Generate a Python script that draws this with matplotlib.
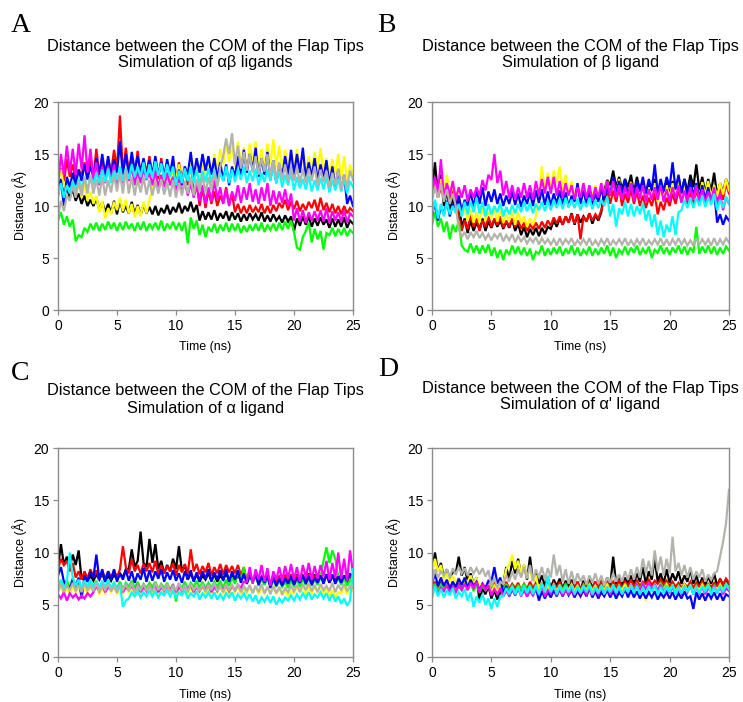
import numpy as np
import matplotlib
matplotlib.use("Agg")
from matplotlib import pyplot as plt

# time axis: one reading every 0.25 ns, 0..25 ns
time_ns = np.linspace(0, 25, 101)

# ---------- A: simulation of alpha-beta ligands ----------
a_black = [11.5, 12.6, 11.0, 11.8, 10.8, 11.6, 10.5, 11.2, 10.2, 11.0, 10.0, 10.6, 10.0, 10.8, 9.6, 10.4, 9.4, 10.2, 9.3, 10.5,
           9.2, 10.6, 9.4, 10.0, 9.3, 10.4, 9.2, 10.1, 9.1, 10.2, 9.3, 9.9, 9.2, 10.0, 9.1, 9.8, 9.3, 10.1, 9.2, 9.9,
           9.4, 10.3, 9.3, 10.0, 9.5, 10.4, 9.4, 10.1, 8.6, 9.5, 8.7, 9.4, 8.7, 9.6, 8.6, 9.3, 8.8, 9.5, 8.6, 9.4,
           8.7, 9.3, 8.5, 9.2, 8.6, 9.3, 8.7, 9.2, 8.6, 9.4, 8.5, 9.1, 8.5, 9.2, 8.6, 9.0, 8.4, 9.1, 8.5, 9.0,
           7.6, 8.8, 8.1, 9.0, 8.2, 9.0, 8.0, 8.8, 8.1, 8.9, 8.2, 8.7, 7.9, 8.8, 8.0, 8.7, 8.0, 8.9, 7.9, 8.6,
           8.3]
a_red = [12.5, 13.6, 12.2, 14.5, 12.8, 14.0, 12.6, 13.5, 13.0, 14.2, 12.5, 14.8, 12.7, 15.5, 13.0, 14.2, 12.8, 14.6, 13.2, 15.4,
         13.5, 18.7, 13.0, 15.6, 13.2, 14.8, 13.0, 15.3, 12.9, 14.5, 13.2, 14.8, 12.8, 14.2, 12.6, 14.6, 12.7, 14.0, 12.9, 14.4,
         12.5, 14.2, 12.6, 13.8, 12.0, 14.5, 11.0, 12.2, 10.0, 11.8, 9.8, 11.5, 10.2, 11.4, 10.0, 11.0, 10.3, 11.8, 10.1, 11.2,
         9.4, 10.2, 9.3, 10.0, 9.3, 10.1, 9.4, 9.9, 9.4, 10.2, 9.3, 10.0, 9.3, 10.1, 9.5, 10.3, 9.8, 10.6, 9.6, 10.4,
         9.7, 10.5, 9.5, 10.2, 9.6, 10.4, 9.8, 10.6, 9.5, 10.8, 9.6, 10.3, 9.4, 10.2, 9.3, 10.0, 9.2, 10.0, 9.3, 9.8,
         9.5]
a_green = [8.6, 9.4, 8.2, 9.0, 8.0, 8.7, 6.6, 7.2, 7.0, 7.9, 7.5, 8.3, 7.7, 8.4, 7.6, 8.3, 7.7, 8.5, 7.8, 8.4,
           7.6, 8.4, 7.7, 8.5, 7.8, 8.3, 7.6, 8.4, 7.7, 8.5, 7.6, 8.3, 7.8, 8.4, 7.7, 8.6, 7.6, 8.3, 7.8, 8.5,
           7.7, 8.4, 7.6, 8.5, 6.4, 8.9, 7.8, 8.6, 7.2, 8.2, 7.0, 8.0, 7.5, 8.3, 7.4, 8.2, 7.6, 8.4, 7.5, 8.3,
           7.6, 8.3, 7.4, 8.1, 7.5, 8.2, 7.6, 8.3, 7.6, 8.4, 7.5, 8.2, 7.7, 8.3, 7.6, 8.4, 7.7, 8.5, 7.8, 8.6,
           7.5, 6.0, 5.8, 7.0, 7.6, 8.4, 6.5, 7.8, 6.8, 7.6, 5.8, 7.4, 7.2, 7.9, 7.1, 7.8, 7.2, 7.9, 7.1, 7.7,
           7.4]
a_yellow = [12.5, 13.5, 11.8, 12.8, 11.5, 13.0, 11.0, 12.2, 10.8, 12.0, 10.5, 11.4, 10.2, 11.0, 9.4, 10.5, 8.8, 9.8, 9.2, 10.4,
            9.6, 10.8, 9.5, 10.6, 9.3, 10.2, 8.9, 10.0, 9.0, 10.4, 9.3, 10.6, 11.5, 12.8, 11.8, 13.0, 12.0, 13.5, 12.2, 13.4,
            12.5, 14.0, 12.3, 13.8, 12.6, 14.5, 12.8, 14.2, 12.5, 14.0, 12.7, 14.3, 13.0, 15.0, 13.2, 15.5, 14.0, 16.0, 14.2, 15.8,
            13.8, 16.2, 14.0, 15.6, 13.5, 16.0, 14.2, 16.2, 13.8, 15.5, 13.6, 16.0, 14.0, 16.4, 13.8, 15.8, 13.5, 15.4, 13.8, 15.2,
            13.2, 15.5, 13.4, 15.0, 13.0, 14.8, 13.2, 15.2, 13.3, 15.6, 13.0, 14.6, 12.8, 14.5, 13.0, 15.0, 12.5, 14.8, 12.2, 14.0,
            13.0]
a_blue = [11.0, 12.5, 10.0, 12.8, 11.8, 13.2, 12.0, 13.5, 12.4, 14.0, 12.6, 13.8, 12.8, 14.6, 13.0, 15.0, 13.0, 14.8, 12.8, 14.5,
          13.2, 16.2, 13.0, 15.0, 13.0, 15.2, 13.4, 14.8, 13.2, 14.6, 12.8, 14.4, 13.0, 14.8, 12.9, 14.2, 12.8, 14.5, 13.0, 14.8,
          11.8, 13.5, 12.0, 13.8, 13.0, 15.2, 12.8, 14.6, 13.2, 15.0, 13.4, 14.8, 13.0, 14.6, 12.6, 14.2, 12.4, 14.0, 12.0, 13.8,
          12.8, 14.8, 13.0, 15.4, 13.2, 15.0, 13.4, 15.6, 12.8, 14.6, 13.0, 15.2, 12.5, 14.4, 12.2, 14.0, 12.8, 14.8, 13.0, 15.4,
          13.0, 15.0, 13.2, 15.6, 12.6, 14.2, 12.8, 14.6, 12.4, 14.0, 12.6, 14.4, 12.0, 13.8, 11.8, 13.5, 11.5, 13.0, 10.2, 11.0,
          10.0]
a_magenta = [12.0, 15.0, 13.0, 15.8, 13.2, 15.5, 13.0, 16.0, 13.5, 16.8, 13.2, 15.5, 12.5, 14.2, 12.0, 13.8, 12.2, 13.8, 12.4, 14.0,
             12.0, 13.6, 12.2, 13.5, 12.4, 13.8, 12.0, 13.4, 12.2, 13.6, 12.5, 13.2, 12.0, 13.4, 11.8, 13.0, 11.8, 13.2, 12.0, 12.8,
             11.5, 12.6, 11.2, 12.4, 11.0, 12.2, 10.8, 12.0, 10.5, 12.0, 10.2, 11.8, 10.4, 12.5, 10.6, 11.8, 10.2, 11.6, 10.0, 11.4,
             10.5, 12.0, 10.3, 11.8, 10.6, 12.2, 10.4, 11.6, 10.2, 11.8, 10.5, 12.2, 10.0, 11.5, 10.2, 11.4, 10.3, 11.6, 10.0, 11.2,
             8.6, 9.8, 8.5, 9.6, 8.4, 9.4, 8.6, 9.5, 8.6, 9.6, 8.5, 9.8, 8.4, 9.5, 8.6, 9.4, 8.5, 9.6, 8.4, 9.3,
             9.0]
a_cyan = [11.0, 12.2, 10.8, 12.0, 11.2, 12.4, 11.4, 12.6, 11.6, 12.8, 11.5, 12.9, 12.0, 13.2, 12.2, 13.5, 12.3, 13.6, 12.2, 13.4,
          12.5, 13.8, 12.4, 13.6, 12.6, 14.0, 12.8, 13.8, 12.8, 14.2, 12.6, 14.0, 12.7, 14.3, 12.9, 14.1, 12.6, 14.0, 12.8, 13.8,
          12.0, 13.4, 12.2, 13.6, 12.4, 13.8, 12.2, 13.5, 12.0, 13.4, 12.3, 13.6, 12.2, 13.5, 12.0, 13.2, 12.4, 13.8, 12.2, 13.5,
          12.3, 13.6, 12.5, 13.8, 12.2, 13.4, 12.4, 13.6, 12.0, 13.2, 12.3, 13.5, 12.4, 13.8, 12.2, 13.4, 11.8, 13.0, 12.0, 13.2,
          11.5, 12.8, 11.7, 12.6, 11.6, 12.9, 11.4, 12.5, 11.5, 12.7, 11.6, 12.8, 11.3, 12.5, 11.5, 12.6, 11.4, 12.6, 11.2, 12.4,
          11.8]
a_gray = [9.0, 10.5, 9.5, 11.0, 10.5, 12.0, 10.8, 12.4, 11.0, 12.8, 11.2, 13.0, 11.2, 12.6, 11.0, 12.8, 11.0, 12.5, 11.3, 13.0,
          11.4, 13.2, 11.2, 13.5, 11.2, 12.8, 11.0, 12.6, 11.3, 12.8, 11.1, 12.5, 11.0, 12.4, 11.2, 12.6, 11.1, 12.3, 10.9, 12.5,
          10.8, 12.2, 11.0, 12.4, 11.2, 12.8, 11.0, 12.6, 11.4, 13.0, 11.2, 12.8, 11.5, 13.2, 11.8, 13.8, 14.8, 16.5, 15.0, 17.0,
          14.0, 15.8, 13.6, 15.2, 13.4, 15.0, 13.2, 14.8, 13.0, 14.6, 13.3, 15.0, 12.8, 14.4, 12.6, 14.2, 12.5, 14.0, 12.3, 13.8,
          12.4, 13.8, 12.2, 13.6, 12.2, 13.6, 12.4, 13.8, 12.0, 13.5, 12.3, 13.4, 11.8, 13.2, 12.0, 13.6, 11.6, 13.0, 11.8, 13.4,
          12.5]

# ---------- B: simulation of beta ligand ----------
b_black = [11.5, 14.2, 11.0, 13.0, 10.0, 11.5, 9.6, 10.8, 9.5, 10.5, 8.0, 8.8, 7.4, 8.6, 7.6, 8.4, 7.8, 8.8, 7.6, 8.5,
           7.9, 8.7, 8.0, 8.6, 7.8, 8.5, 7.9, 8.7, 7.6, 8.3, 7.2, 8.0, 7.0, 7.8, 7.2, 7.9, 7.1, 7.9, 7.3, 8.0,
           7.8, 8.6, 8.0, 8.8, 8.2, 9.0, 8.4, 9.3, 8.2, 9.2, 8.4, 9.0, 8.5, 9.3, 8.3, 9.1, 8.6, 9.4, 11.5, 12.5,
           12.0, 13.4, 11.8, 12.8, 11.6, 12.6, 11.8, 13.0, 11.2, 12.8, 11.5, 12.4, 11.0, 12.2, 11.3, 12.6, 10.8, 12.0, 11.2, 12.5,
           11.0, 12.4, 11.2, 12.8, 11.2, 12.6, 11.4, 13.0, 11.8, 14.0, 11.5, 12.8, 11.2, 12.6, 11.4, 13.2, 11.0, 12.2, 11.3, 12.6,
           11.8]
b_red = [11.0, 12.2, 10.8, 11.8, 11.0, 12.0, 10.6, 11.5, 10.5, 9.0, 7.6, 8.6, 7.8, 9.2, 8.0, 8.8, 7.6, 8.6, 8.0, 9.0,
         8.0, 8.8, 8.2, 9.0, 7.9, 8.6, 8.0, 8.8, 8.0, 8.6, 7.8, 8.4, 7.6, 8.2, 7.8, 8.4, 7.8, 8.5, 7.9, 8.6,
         8.1, 8.9, 8.3, 9.0, 8.2, 9.0, 8.4, 9.2, 8.3, 9.2, 6.8, 9.0, 8.5, 9.3, 8.6, 9.2, 8.8, 9.6, 10.5, 11.5,
         10.2, 11.5, 10.4, 11.8, 10.0, 11.2, 10.3, 11.6, 10.2, 11.4, 10.0, 11.0, 9.8, 10.8, 10.0, 11.2, 9.2, 10.4, 9.6, 10.8,
         10.0, 11.2, 10.2, 11.5, 10.4, 11.8, 10.2, 11.4, 10.0, 11.6, 10.4, 12.0, 10.6, 12.2, 10.4, 11.8, 10.2, 11.8, 10.6, 12.2,
         11.2]
b_green = [8.2, 9.4, 8.0, 8.8, 7.5, 8.5, 6.8, 8.2, 7.5, 8.6, 6.2, 5.8, 5.6, 6.4, 5.5, 6.2, 5.4, 6.2, 5.5, 6.3,
           5.2, 6.0, 5.0, 5.8, 4.8, 5.8, 5.3, 6.2, 5.4, 6.1, 5.3, 6.0, 5.2, 5.9, 4.8, 5.6, 5.4, 6.2, 5.2, 5.9,
           5.3, 6.0, 5.4, 6.1, 5.2, 5.9, 5.4, 6.2, 5.3, 6.0, 5.2, 5.8, 5.4, 6.1, 5.2, 5.9, 5.3, 6.0, 5.4, 6.2,
           5.2, 6.0, 5.0, 5.8, 5.4, 6.1, 5.3, 6.0, 5.5, 6.2, 5.3, 5.9, 5.4, 6.1, 5.0, 5.8, 5.5, 6.2, 5.4, 6.0,
           5.3, 6.0, 5.5, 6.2, 5.4, 6.1, 5.3, 6.0, 5.5, 8.0, 5.4, 6.1, 5.5, 6.2, 5.4, 6.1, 5.3, 6.0, 5.4, 6.1,
           5.7]
b_yellow = [11.2, 12.2, 11.0, 12.6, 11.4, 13.0, 11.0, 12.0, 10.8, 11.8, 9.0, 9.8, 8.6, 9.6, 8.4, 9.4, 8.4, 9.8, 8.6, 9.4,
            8.8, 9.8, 8.5, 9.6, 8.4, 9.2, 8.6, 9.5, 8.2, 9.4, 8.4, 9.0, 8.0, 8.8, 8.2, 9.0, 11.0, 13.8, 11.5, 13.2,
            11.8, 13.4, 12.2, 13.8, 11.5, 13.0, 11.2, 12.4, 10.8, 12.0, 11.0, 12.2, 10.6, 11.8, 10.9, 12.0, 10.8, 12.2, 11.0, 12.4,
            11.0, 12.4, 11.2, 12.6, 10.8, 12.0, 11.0, 12.3, 11.0, 12.2, 10.8, 12.0, 10.6, 11.8, 10.9, 12.2, 10.4, 11.6, 10.8, 12.0,
            10.8, 12.2, 11.0, 12.4, 10.7, 12.0, 10.9, 12.2, 10.6, 11.9, 10.8, 12.3, 11.0, 12.4, 10.8, 12.0, 10.9, 12.2, 11.1, 12.6,
            11.5]
b_blue = [9.0, 10.4, 8.6, 10.0, 9.2, 10.5, 9.0, 10.2, 9.8, 11.0, 9.5, 10.6, 10.0, 11.4, 9.8, 11.6, 10.2, 11.8, 10.0, 11.4,
          10.4, 11.6, 10.2, 11.2, 10.0, 11.0, 10.2, 11.4, 10.1, 11.2, 9.9, 11.0, 10.2, 11.3, 10.0, 11.5, 10.3, 11.6, 10.1, 11.4,
          10.0, 11.2, 10.2, 11.5, 10.1, 11.3, 9.9, 11.0, 10.4, 12.2, 10.2, 11.5, 10.2, 11.4, 10.0, 11.2, 10.4, 11.6, 10.6, 12.0,
          11.0, 12.8, 11.2, 12.4, 11.2, 12.6, 11.0, 12.2, 11.0, 12.4, 11.4, 12.8, 11.2, 12.6, 11.5, 14.0, 11.2, 12.6, 11.4, 12.8,
          11.8, 14.2, 11.6, 13.0, 11.2, 12.6, 11.0, 12.4, 11.0, 12.2, 10.8, 12.0, 10.6, 11.8, 10.4, 11.4, 8.4, 9.2, 8.2, 9.0,
          8.6]
b_magenta = [11.0, 12.8, 11.2, 14.5, 10.8, 12.2, 11.0, 12.4, 10.6, 11.8, 10.8, 12.0, 10.5, 11.6, 10.8, 11.8, 11.0, 12.5, 11.5, 13.0,
             12.5, 15.0, 12.2, 13.4, 11.0, 12.4, 10.8, 12.0, 10.6, 11.8, 10.8, 12.2, 10.8, 12.0, 10.6, 12.4, 11.0, 12.6, 11.2, 12.8,
             11.2, 12.8, 11.0, 12.4, 10.8, 12.2, 11.0, 12.0, 10.6, 11.8, 10.8, 12.2, 10.7, 12.0, 10.5, 11.8, 10.8, 12.2, 11.0, 12.4,
             11.0, 12.4, 10.8, 12.0, 10.6, 11.8, 10.8, 12.2, 10.5, 11.8, 10.7, 12.0, 10.4, 11.6, 10.6, 11.8, 10.6, 12.0, 10.4, 11.6,
             10.5, 11.8, 10.7, 12.0, 10.3, 11.5, 10.5, 11.8, 10.6, 12.0, 10.4, 11.6, 10.2, 11.4, 10.5, 11.8, 10.0, 11.2, 9.6, 10.8,
             10.2]
b_cyan = [9.2, 10.6, 8.8, 10.2, 9.0, 10.4, 9.2, 10.0, 9.3, 10.2, 9.0, 10.4, 9.2, 10.5, 9.4, 10.8, 9.3, 10.4, 9.0, 10.2,
          9.2, 10.0, 9.4, 10.3, 9.0, 9.9, 9.2, 10.1, 9.3, 10.2, 9.4, 10.4, 9.5, 10.3, 9.3, 10.2, 9.6, 10.4, 9.5, 10.5,
          9.6, 10.6, 9.8, 10.7, 9.7, 10.8, 9.9, 10.6, 9.8, 10.7, 9.6, 10.5, 9.9, 10.8, 9.7, 10.6, 9.8, 10.6, 10.0, 10.9,
          9.0, 10.2, 8.0, 9.8, 9.2, 10.4, 9.0, 10.2, 9.0, 10.0, 9.2, 10.3, 8.6, 9.6, 8.0, 9.2, 7.2, 8.6, 7.0, 8.2,
          7.5, 9.0, 7.2, 9.4, 9.6, 10.6, 9.8, 10.8, 9.8, 10.8, 10.0, 11.0, 9.9, 10.8, 10.1, 11.2, 9.6, 10.6, 9.8, 10.9,
          10.2]
b_gray = [10.5, 11.8, 10.8, 12.2, 10.4, 11.6, 10.2, 11.2, 10.0, 7.8, 7.0, 7.5, 6.8, 7.5, 7.0, 7.6, 6.9, 7.4, 6.8, 7.3,
          6.7, 7.3, 6.9, 7.4, 6.6, 7.2, 6.7, 7.3, 6.5, 7.1, 6.6, 7.0, 6.4, 6.9, 6.5, 7.0, 6.3, 6.9, 6.4, 6.8,
          6.3, 6.8, 6.2, 6.9, 6.3, 6.8, 6.4, 6.9, 6.2, 6.7, 6.3, 6.8, 6.3, 6.9, 6.2, 6.7, 6.2, 6.8, 6.3, 6.9,
          6.2, 6.7, 6.3, 6.8, 6.3, 6.9, 6.2, 6.7, 6.2, 6.8, 6.3, 6.9, 6.2, 6.7, 6.3, 6.8, 6.3, 6.9, 6.2, 6.8,
          6.2, 6.8, 6.3, 6.9, 6.3, 6.8, 6.2, 6.7, 6.2, 6.9, 6.3, 6.8, 6.3, 6.8, 6.2, 6.9, 6.2, 6.8, 6.3, 6.9,
          6.5]

# ---------- C: simulation of alpha ligand ----------
c_black = [8.6, 10.8, 8.8, 9.6, 8.6, 9.8, 8.8, 10.2, 7.4, 8.0, 7.2, 7.8, 7.3, 7.9, 7.4, 8.0, 7.2, 7.8, 7.3, 7.9,
           7.4, 8.0, 7.6, 8.4, 8.4, 10.3, 8.6, 9.2, 12.0, 9.0, 8.6, 11.3, 9.0, 10.8, 8.4, 9.2, 8.0, 8.8, 8.2, 9.4,
           8.4, 10.6, 8.2, 8.8, 7.4, 8.0, 7.3, 7.9, 7.2, 7.8, 7.4, 8.0, 7.3, 7.9, 7.2, 7.8, 7.4, 8.0, 7.3, 7.8,
           7.2, 7.9, 7.3, 7.8, 7.4, 8.0, 7.2, 7.7, 7.1, 7.7, 7.0, 7.6, 7.0, 7.6, 6.8, 7.4, 7.1, 7.8, 7.2, 7.9,
           7.3, 7.9, 7.2, 7.8, 7.4, 8.0, 7.3, 7.9, 7.2, 7.8, 7.3, 7.9, 7.1, 7.7, 7.3, 7.8, 7.2, 7.8, 7.0, 7.6,
           7.4]
c_red = [8.4, 9.4, 8.8, 9.2, 8.2, 9.0, 7.6, 8.2, 7.4, 8.2, 7.5, 8.4, 7.6, 8.3, 7.4, 8.2, 7.5, 8.2, 7.6, 8.3,
         7.6, 8.4, 10.6, 8.6, 8.0, 9.4, 8.2, 8.8, 8.0, 8.9, 8.2, 9.0, 8.1, 9.2, 7.9, 8.8, 8.0, 8.7, 8.2, 9.0,
         7.8, 8.8, 8.1, 8.9, 8.0, 10.3, 8.2, 8.9, 7.9, 8.7, 8.1, 9.0, 7.8, 8.6, 8.0, 8.9, 7.9, 8.8, 8.1, 8.7,
         8.0, 8.8, 7.8, 8.6, 7.2, 7.8, 7.3, 7.9, 7.1, 7.7, 7.2, 7.8, 7.0, 7.6, 7.1, 7.7, 7.2, 7.8, 7.3, 7.9,
         7.2, 7.8, 7.1, 7.7, 7.3, 7.9, 7.2, 7.8, 7.1, 7.7, 7.3, 7.8, 7.2, 7.9, 7.1, 7.7, 7.2, 7.8, 7.0, 7.6,
         7.4]
c_green = [6.6, 7.3, 6.7, 7.4, 6.5, 7.6, 6.6, 7.2, 6.5, 7.1, 6.6, 7.2, 6.7, 7.3, 6.5, 7.1, 6.6, 7.2, 6.5, 7.0,
           6.6, 7.2, 6.5, 7.1, 6.7, 7.3, 6.6, 7.2, 6.5, 7.0, 6.6, 7.1, 6.7, 7.2, 6.5, 7.0, 6.6, 7.1, 6.4, 7.0,
           5.3, 7.0, 6.6, 7.2, 6.5, 7.1, 6.7, 7.3, 6.6, 7.2, 6.5, 7.1, 6.6, 7.2, 6.7, 7.3, 6.6, 7.4, 6.8, 7.6,
           7.0, 8.4, 7.2, 8.6, 7.0, 7.8, 7.1, 8.0, 6.8, 7.5, 6.9, 7.6, 6.7, 7.4, 6.8, 7.3, 6.7, 7.2, 6.6, 7.3,
           6.8, 7.4, 6.7, 7.5, 6.9, 7.6, 6.8, 7.4, 6.9, 7.6, 9.2, 10.5, 9.0, 10.2, 9.4, 7.6, 6.9, 7.5, 6.8, 7.4,
           7.0]
c_yellow = [6.2, 6.8, 6.0, 6.6, 6.1, 6.7, 6.2, 6.8, 6.0, 6.6, 6.1, 6.7, 6.2, 6.8, 6.0, 6.6, 6.1, 6.7, 6.2, 6.8,
            6.0, 6.6, 6.1, 6.7, 6.2, 6.8, 6.0, 6.6, 6.1, 6.7, 6.2, 6.8, 6.0, 6.6, 6.1, 6.7, 6.2, 6.8, 6.0, 6.6,
            6.1, 6.7, 6.2, 6.8, 6.0, 6.6, 6.1, 6.7, 6.2, 6.8, 6.0, 6.6, 6.1, 6.7, 6.2, 6.8, 6.0, 6.6, 6.1, 6.7,
            6.2, 6.8, 6.0, 6.6, 6.1, 6.7, 6.2, 6.8, 6.0, 6.6, 6.1, 6.7, 6.2, 6.8, 6.0, 6.6, 5.9, 6.4, 5.8, 6.3,
            6.1, 6.7, 6.2, 6.8, 6.0, 6.6, 6.1, 6.7, 6.2, 6.8, 6.0, 6.6, 5.8, 6.4, 5.7, 6.2, 6.1, 6.7, 6.0, 6.6,
            6.3]
c_blue = [7.8, 8.6, 7.2, 6.8, 6.6, 7.4, 6.8, 7.6, 5.6, 7.8, 7.2, 8.2, 7.6, 9.8, 7.4, 8.4, 7.2, 8.2, 7.4, 8.4,
          7.2, 8.0, 7.4, 8.3, 7.3, 8.2, 7.1, 8.0, 7.4, 8.5, 7.2, 8.3, 7.3, 8.2, 7.5, 8.4, 7.2, 8.1, 7.4, 8.3,
          7.3, 8.0, 7.1, 8.2, 7.4, 8.3, 7.2, 8.1, 7.3, 8.2, 7.5, 8.4, 7.2, 8.1, 7.4, 8.3, 7.3, 8.4, 7.2, 8.2,
          7.4, 8.3, 7.1, 8.0, 7.0, 7.8, 7.2, 7.9, 6.9, 7.7, 7.1, 7.8, 6.6, 7.6, 6.8, 7.5, 6.8, 7.5, 7.0, 7.7,
          6.9, 7.6, 7.1, 7.8, 7.0, 7.7, 6.9, 7.6, 7.1, 7.8, 7.0, 7.9, 7.2, 7.9, 7.0, 7.7, 7.1, 7.8, 7.3, 8.0,
          7.5]
c_magenta = [6.0, 5.6, 6.2, 5.4, 6.1, 5.7, 6.0, 5.5, 5.9, 5.6, 6.1, 5.8, 6.2, 6.8, 6.3, 6.9, 6.2, 6.7, 6.4, 6.8,
             6.3, 6.9, 6.2, 6.7, 6.4, 6.8, 6.3, 6.9, 6.2, 6.7, 6.3, 6.8, 6.4, 6.9, 6.2, 6.7, 6.3, 6.8, 6.4, 6.9,
             6.2, 6.7, 6.3, 6.8, 6.4, 6.9, 6.2, 6.7, 6.3, 6.8, 6.4, 6.9, 6.2, 6.7, 6.3, 6.8, 6.4, 6.9, 6.3, 6.8,
             6.4, 6.9, 6.6, 7.2, 7.2, 8.6, 7.0, 8.4, 7.4, 8.8, 7.2, 8.5, 6.8, 8.2, 7.4, 8.6, 7.3, 8.7, 7.5, 8.9,
             7.4, 8.6, 7.2, 8.8, 7.6, 9.0, 7.4, 8.7, 7.5, 8.8, 7.7, 9.2, 7.4, 9.0, 7.6, 10.0, 7.5, 9.4, 7.3, 10.2,
             8.0]
c_cyan = [6.6, 7.4, 6.5, 7.2, 10.0, 7.6, 6.8, 7.4, 6.6, 7.3, 6.7, 7.4, 6.5, 7.2, 6.6, 7.3, 6.7, 7.4, 6.5, 7.2,
          6.4, 7.0, 4.8, 5.4, 5.6, 6.2, 5.8, 6.3, 5.7, 6.2, 5.8, 6.4, 5.8, 6.3, 5.7, 6.2, 5.9, 6.4, 5.8, 6.3,
          5.7, 6.2, 5.9, 6.4, 5.6, 6.1, 5.8, 6.3, 5.5, 6.1, 5.7, 6.2, 5.6, 6.2, 5.5, 6.0, 5.5, 6.1, 5.7, 6.2,
          5.4, 6.0, 5.6, 6.1, 5.5, 6.0, 5.3, 5.9, 5.1, 5.7, 5.3, 5.8, 5.2, 5.8, 5.0, 5.6, 5.2, 5.7, 5.4, 5.9,
          5.4, 6.0, 5.5, 6.1, 5.6, 6.2, 5.5, 6.0, 5.7, 6.2, 5.6, 6.1, 5.4, 6.0, 5.3, 5.8, 5.1, 5.6, 4.9, 5.4,
          8.4]
c_gray = [6.3, 7.0, 6.2, 6.9, 6.4, 7.1, 6.3, 6.9, 6.2, 7.0, 6.4, 6.8, 6.3, 7.1, 6.2, 6.9, 6.4, 7.0, 6.3, 6.8,
          6.2, 6.9, 6.4, 7.0, 6.3, 7.1, 6.2, 6.8, 6.4, 7.0, 6.3, 6.9, 6.2, 7.1, 6.4, 6.9, 6.3, 7.0, 6.2, 6.8,
          6.4, 7.1, 6.3, 6.9, 6.2, 7.0, 6.4, 6.8, 6.3, 7.0, 6.2, 6.9, 6.4, 7.1, 6.3, 6.8, 6.2, 7.0, 6.4, 6.9,
          6.3, 7.0, 6.2, 6.8, 6.3, 6.9, 6.1, 6.8, 6.2, 7.0, 6.1, 6.7, 6.0, 6.8, 6.1, 6.7, 6.0, 6.6, 6.2, 6.8,
          6.3, 6.9, 6.2, 7.0, 6.4, 7.1, 6.3, 6.9, 6.2, 7.0, 6.4, 6.8, 6.3, 7.1, 6.2, 6.9, 6.4, 7.0, 6.3, 6.8,
          6.6]

# ---------- D: simulation of alpha' ligand ----------
d_black = [8.0, 10.0, 8.2, 9.0, 7.6, 8.4, 7.4, 8.2, 8.0, 9.6, 7.8, 8.6, 7.2, 8.0, 7.0, 7.6, 5.4, 6.6, 6.0, 6.8,
           5.6, 6.4, 5.5, 6.2, 7.0, 8.6, 7.4, 9.2, 8.0, 9.4, 7.8, 8.8, 7.4, 9.6, 7.2, 8.0, 7.0, 7.8, 6.8, 7.6,
           6.6, 7.4, 6.8, 7.5, 6.5, 7.3, 6.7, 7.4, 6.6, 7.2, 6.4, 7.3, 6.7, 7.5, 6.6, 7.2, 6.5, 7.3, 6.8, 7.6,
           6.8, 9.6, 7.0, 7.8, 6.8, 7.6, 7.0, 7.8, 7.0, 8.0, 7.2, 8.6, 7.0, 8.2, 7.4, 9.4, 7.2, 8.0, 7.0, 8.4,
           7.1, 8.0, 7.3, 8.2, 7.0, 7.8, 7.2, 8.4, 7.0, 7.8, 6.8, 7.6, 6.9, 7.7, 7.0, 8.0, 6.8, 7.5, 6.9, 7.4,
           7.0]
d_red = [6.6, 7.2, 6.5, 7.1, 6.7, 7.3, 6.6, 7.2, 6.5, 7.0, 6.6, 7.1, 6.5, 7.2, 6.6, 7.0, 6.4, 7.0, 6.5, 7.1,
         6.4, 7.0, 6.5, 7.1, 6.6, 7.2, 6.5, 7.0, 6.6, 7.1, 6.4, 7.0, 6.5, 7.2, 6.6, 7.1, 6.5, 7.0, 6.6, 7.2,
         6.5, 7.1, 6.6, 7.2, 6.4, 7.0, 6.5, 7.1, 6.6, 7.2, 6.5, 7.0, 6.6, 7.1, 6.5, 7.2, 6.6, 7.3, 6.7, 7.2,
         6.6, 7.2, 6.7, 7.3, 6.6, 7.2, 6.8, 7.4, 6.7, 7.3, 6.8, 7.2, 7.0, 7.4, 6.9, 7.3, 7.0, 7.4, 6.9, 7.3,
         6.8, 7.2, 6.7, 7.1, 6.6, 7.0, 6.7, 7.2, 6.6, 7.1, 6.7, 7.2, 6.6, 7.0, 6.7, 7.1, 6.8, 7.4, 6.9, 7.5,
         7.1]
d_green = [6.4, 7.0, 6.3, 6.9, 6.5, 7.1, 6.4, 6.9, 6.3, 6.8, 6.4, 7.0, 6.5, 7.1, 6.3, 6.9, 6.2, 6.8, 6.4, 7.0,
           6.3, 6.9, 6.2, 6.8, 6.4, 7.0, 6.3, 6.8, 6.2, 6.9, 6.4, 7.0, 6.3, 6.9, 6.2, 6.8, 6.3, 6.9, 6.4, 7.0,
           6.3, 6.8, 6.2, 6.9, 6.4, 7.0, 6.3, 6.9, 6.2, 6.8, 6.3, 6.9, 6.4, 7.0, 6.3, 6.8, 6.2, 6.9, 6.4, 7.0,
           6.3, 6.9, 6.2, 6.8, 6.4, 7.0, 6.3, 6.9, 6.4, 7.0, 6.5, 7.1, 6.4, 7.0, 6.3, 6.9, 6.4, 7.0, 6.5, 7.1,
           6.3, 6.9, 6.2, 6.8, 6.4, 7.0, 6.3, 6.9, 6.2, 6.8, 6.3, 6.9, 6.4, 7.0, 6.3, 6.8, 6.2, 6.9, 6.4, 7.0,
           6.6]
d_yellow = [8.0, 9.4, 8.2, 8.8, 7.4, 8.0, 7.2, 7.8, 7.0, 7.6, 6.9, 7.4, 7.2, 7.8, 7.0, 7.6, 6.6, 7.2, 6.4, 7.0,
            6.2, 6.8, 6.3, 6.9, 7.0, 8.4, 8.8, 9.8, 8.4, 9.2, 8.0, 8.8, 7.6, 8.4, 7.2, 7.8, 6.4, 6.9, 6.3, 6.8,
            6.4, 6.9, 6.3, 6.8, 6.2, 6.7, 6.4, 6.9, 6.3, 6.8, 6.2, 6.7, 6.4, 6.9, 6.3, 6.8, 6.2, 6.7, 6.4, 6.9,
            6.3, 6.8, 6.2, 6.7, 6.4, 6.9, 6.3, 6.8, 6.2, 6.7, 6.4, 6.9, 5.4, 6.2, 6.3, 6.8, 6.2, 6.7, 6.4, 6.9,
            6.3, 6.8, 6.2, 6.7, 6.4, 6.9, 6.3, 6.8, 6.2, 6.7, 6.4, 6.9, 6.3, 6.8, 6.2, 6.7, 6.4, 6.9, 6.3, 6.8,
            6.5]
d_blue = [7.0, 8.0, 6.8, 7.6, 6.8, 7.4, 6.5, 7.2, 6.7, 7.5, 6.9, 7.6, 6.6, 7.4, 6.8, 7.2, 6.4, 7.0, 6.6, 7.3,
          7.2, 8.6, 7.0, 7.6, 6.0, 6.8, 5.8, 6.5, 5.9, 6.6, 6.0, 6.7, 5.8, 6.4, 5.9, 6.6, 5.4, 6.3, 5.6, 6.2,
          5.7, 6.4, 5.8, 6.5, 5.8, 6.5, 5.9, 6.4, 5.7, 6.3, 5.8, 6.4, 5.8, 6.6, 5.7, 6.3, 5.6, 6.2, 5.8, 6.4,
          5.7, 6.3, 5.6, 6.2, 5.8, 6.5, 5.7, 6.4, 5.7, 6.3, 5.6, 6.2, 5.6, 6.2, 5.7, 6.3, 5.5, 6.1, 5.7, 6.2,
          5.6, 6.2, 5.5, 6.1, 5.6, 6.3, 5.6, 5.8, 4.6, 6.2, 5.5, 6.1, 5.4, 6.1, 5.6, 6.2, 5.5, 6.1, 5.4, 6.0,
          5.8]
d_magenta = [6.2, 6.8, 6.0, 6.6, 6.3, 6.9, 6.1, 6.7, 6.2, 6.8, 6.4, 7.0, 6.4, 7.1, 6.6, 7.2, 6.2, 7.0, 6.4, 6.9,
             5.9, 6.5, 6.0, 6.6, 5.8, 6.3, 5.9, 6.5, 6.0, 6.6, 5.8, 6.4, 5.8, 6.4, 5.9, 6.5, 6.0, 6.8, 5.8, 6.4,
             6.1, 6.9, 5.9, 6.6, 5.9, 6.4, 6.0, 6.5, 6.0, 6.6, 6.1, 6.5, 6.0, 6.6, 5.9, 6.5, 6.0, 6.6, 6.1, 6.7,
             6.0, 6.6, 6.1, 6.7, 6.0, 6.5, 6.2, 6.8, 6.3, 6.9, 6.4, 7.0, 6.5, 7.1, 6.4, 7.0, 6.3, 6.9, 6.2, 6.8,
             6.1, 6.7, 6.0, 6.6, 6.1, 6.7, 6.2, 6.8, 6.0, 6.6, 6.1, 6.7, 6.0, 6.6, 6.2, 6.8, 6.1, 6.7, 6.0, 6.6,
             6.3]
d_cyan = [5.6, 6.8, 5.8, 6.5, 5.7, 6.4, 5.9, 6.6, 5.6, 6.2, 5.8, 6.5, 5.4, 6.2, 4.8, 5.8, 5.2, 6.0, 5.0, 5.6,
          4.6, 5.6, 4.8, 5.8, 5.8, 6.6, 6.0, 6.8, 6.0, 6.7, 5.9, 6.8, 6.1, 6.8, 6.0, 6.9, 6.0, 7.0, 6.2, 7.8,
          6.2, 6.9, 6.0, 6.8, 6.1, 6.8, 6.2, 6.9, 6.0, 6.7, 6.1, 6.8, 6.2, 6.9, 6.0, 6.7, 6.1, 6.8, 6.0, 6.7,
          6.2, 6.9, 6.1, 6.8, 6.0, 6.7, 6.2, 6.9, 6.1, 6.8, 6.0, 6.6, 6.1, 6.8, 6.2, 6.9, 6.0, 6.7, 6.1, 6.8,
          6.2, 6.9, 6.0, 6.7, 6.1, 6.8, 6.2, 6.9, 6.0, 6.7, 6.1, 6.8, 6.2, 6.9, 6.0, 6.7, 6.1, 6.8, 6.2, 6.9,
          6.5]
d_gray = [7.2, 8.4, 7.6, 8.2, 7.8, 8.4, 7.6, 8.5, 7.9, 8.6, 8.0, 8.5, 7.8, 8.6, 8.0, 8.5, 7.9, 8.5, 7.7, 8.3,
          6.8, 7.6, 6.6, 7.2, 7.0, 7.8, 7.2, 8.2, 7.4, 8.4, 7.6, 8.6, 7.5, 8.8, 7.3, 8.4, 7.6, 8.6, 7.4, 8.5,
          7.6, 9.8, 7.8, 8.8, 7.2, 8.4, 7.0, 8.2, 7.0, 8.0, 7.2, 7.8, 6.9, 7.8, 7.1, 8.0, 7.0, 7.8, 6.8, 7.6,
          7.1, 8.0, 7.2, 7.9, 7.2, 8.2, 7.4, 8.4, 7.4, 8.6, 7.6, 9.4, 8.0, 9.2, 7.8, 10.2, 8.2, 9.6, 7.8, 9.4,
          8.0, 11.5, 8.2, 9.0, 7.8, 8.8, 7.6, 8.6, 7.4, 8.2, 7.6, 8.4, 7.2, 7.9, 7.4, 8.0, 8.2, 9.6, 11.0, 12.8,
          16.0]

trace_colours = ['#000000', '#ff0000', '#00ff00', '#ffff00', '#0000ff', '#ff00ff', '#00ffff', '#b3b3ab']

panels = [
    ('A', 'Simulation of \u03b1\u03b2 ligands',
     [a_black, a_red, a_green, a_yellow, a_blue, a_magenta, a_cyan, a_gray]),
    ('B', 'Simulation of \u03b2 ligand',
     [b_black, b_red, b_green, b_yellow, b_blue, b_magenta, b_cyan, b_gray]),
    ('C', 'Simulation of \u03b1 ligand',
     [c_black, c_red, c_green, c_yellow, c_blue, c_magenta, c_cyan, c_gray]),
    ('D', "Simulation of \u03b1' ligand",
     [d_black, d_red, d_green, d_yellow, d_blue, d_magenta, d_cyan, d_gray]),
]

W, H = 743, 702
# axes boxes in pixels: left, top, right, bottom
boxes = [(58, 102, 353, 310), (432, 102, 729, 310),
         (58, 448, 353, 657), (432, 448, 729, 657)]
letter_pos = [(21, 25), (386, 25), (20, 373), (388, 369)]
title_y = [(47, 63), (47, 63), (390, 408), (388, 405)]

plt.rcParams['font.family'] = ['Liberation Sans', 'DejaVu Sans']
spine_grey = '#8c8c8c'

fig = plt.figure(figsize=(W / 100, H / 100), dpi=100)

for (letter, subtitle, series), (l, t, r, b), (lx, ly), (ty1, ty2) in zip(panels, boxes, letter_pos, title_y):
    ax = fig.add_axes([l / W, 1 - b / H, (r - l) / W, (b - t) / H])
    for values, colour in zip(series, trace_colours):
        assert len(values) == len(time_ns), (letter, colour, len(values))
        ax.plot(time_ns, values, color=colour, linewidth=1.6, solid_joinstyle='miter')

    ax.set_xlim(0, 25)
    ax.set_ylim(0, 20)
    ax.set_xticks([0, 5, 10, 15, 20, 25])
    ax.set_yticks([0, 5, 10, 15, 20])
    for s in ax.spines.values():
        s.set_color(spine_grey)
        s.set_linewidth(1.0)
    ax.tick_params(direction='out', length=3.5, width=0.9, color=spine_grey,
                   labelsize=10, pad=3, top=False, right=False)
    ax.set_xlabel('Time (ns)', fontsize=9)
    ax.set_ylabel('Distance (\u00c5)', fontsize=9)
    ax.xaxis.set_label_coords(0.5, -0.18)
    ax.xaxis.label.set_va('center')
    ax.yaxis.set_label_coords(-0.129, 0.5)
    ax.yaxis.label.set_va('center')

    cx = (l + r) / 2 / W
    fig.text(cx, 1 - ty1 / H, 'Distance between the COM of the Flap Tips',
             ha='center', va='center', fontsize=11.8)
    fig.text(cx, 1 - ty2 / H, subtitle, ha='center', va='center', fontsize=11.8)
    fig.text(lx / W, 1 - ly / H, letter, ha='center', va='center',
             fontsize=20, family=['Liberation Serif', 'DejaVu Serif'])

fig.savefig('out.png', dpi=100)
